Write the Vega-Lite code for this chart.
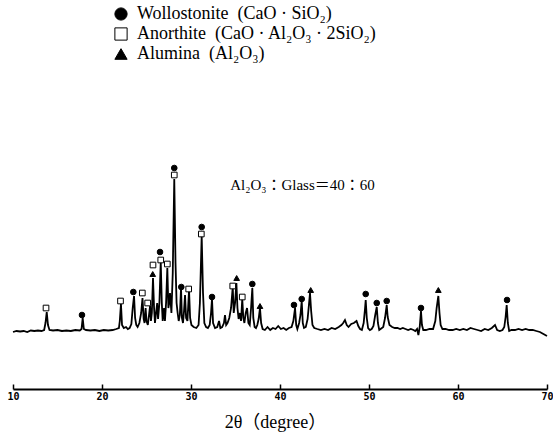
{
  "$schema": "https://vega.github.io/schema/vega-lite/v6.json",
  "width": 534,
  "height": 389,
  "autosize": {"type": "none"},
  "padding": {"left": 13, "top": 0, "right": 6, "bottom": 58},
  "background": "white",
  "config": {"view": {"stroke": null}, "font": "Liberation Serif"},
  "datasets": {
    "spectrum": [
      {"t":10.0,"I":1},{"t":10.4,"I":2},{"t":10.8,"I":1.5},{"t":11.2,"I":2},{"t":11.6,"I":1},{"t":12.0,"I":2.5},{"t":12.4,"I":2},{"t":12.8,"I":2.5},{"t":13.2,"I":2},{"t":13.5,"I":3},{"t":13.65,"I":10},{"t":13.79,"I":21},{"t":13.93,"I":8},{"t":14.1,"I":3},{"t":14.5,"I":2.5},{"t":15.0,"I":3},{"t":15.5,"I":2},{"t":16.0,"I":2.5},{"t":16.5,"I":2},{"t":17.0,"I":3},{"t":17.5,"I":2.5},{"t":17.7,"I":4},{"t":17.83,"I":15},{"t":17.96,"I":4},{"t":18.2,"I":3},{"t":18.7,"I":2.5},{"t":19.2,"I":3},{"t":19.7,"I":2},{"t":20.2,"I":3},{"t":20.7,"I":2.5},{"t":21.2,"I":3},{"t":21.6,"I":4},{"t":21.9,"I":5},{"t":22.0,"I":12},{"t":22.13,"I":29},{"t":22.25,"I":8},{"t":22.45,"I":5},{"t":22.7,"I":6},{"t":22.9,"I":4},{"t":23.1,"I":5},{"t":23.3,"I":9},{"t":23.45,"I":25},{"t":23.6,"I":37},{"t":23.72,"I":15},{"t":23.85,"I":8},{"t":24.0,"I":6},{"t":24.2,"I":10},{"t":24.4,"I":20},{"t":24.55,"I":35},{"t":24.68,"I":14},{"t":24.78,"I":10},{"t":24.9,"I":25},{"t":25.0,"I":12},{"t":25.15,"I":8},{"t":25.4,"I":27},{"t":25.5,"I":12},{"t":25.6,"I":20},{"t":25.73,"I":55},{"t":25.85,"I":25},{"t":25.95,"I":10},{"t":26.05,"I":18},{"t":26.2,"I":30},{"t":26.3,"I":14},{"t":26.45,"I":30},{"t":26.6,"I":71},{"t":26.72,"I":30},{"t":26.82,"I":12},{"t":26.97,"I":25},{"t":27.07,"I":12},{"t":27.2,"I":30},{"t":27.34,"I":65},{"t":27.46,"I":25},{"t":27.55,"I":30},{"t":27.64,"I":40},{"t":27.8,"I":20},{"t":27.95,"I":60},{"t":28.12,"I":154},{"t":28.26,"I":70},{"t":28.38,"I":30},{"t":28.5,"I":20},{"t":28.62,"I":12},{"t":28.75,"I":18},{"t":28.88,"I":45},{"t":28.98,"I":15},{"t":29.1,"I":10},{"t":29.2,"I":20},{"t":29.33,"I":38},{"t":29.45,"I":15},{"t":29.6,"I":12},{"t":29.78,"I":43},{"t":29.9,"I":15},{"t":30.05,"I":8},{"t":30.3,"I":6},{"t":30.6,"I":5},{"t":30.85,"I":8},{"t":31.0,"I":30},{"t":31.2,"I":97},{"t":31.35,"I":40},{"t":31.5,"I":10},{"t":31.7,"I":6},{"t":31.9,"I":5},{"t":32.1,"I":8},{"t":32.25,"I":20},{"t":32.36,"I":34},{"t":32.48,"I":10},{"t":32.7,"I":5},{"t":32.95,"I":6},{"t":33.15,"I":12},{"t":33.3,"I":5},{"t":33.5,"I":6},{"t":33.7,"I":10},{"t":33.82,"I":18},{"t":33.95,"I":8},{"t":34.1,"I":10},{"t":34.3,"I":15},{"t":34.5,"I":25},{"t":34.69,"I":46},{"t":34.8,"I":20},{"t":34.95,"I":30},{"t":35.1,"I":50},{"t":35.22,"I":25},{"t":35.35,"I":14},{"t":35.5,"I":20},{"t":35.62,"I":12},{"t":35.76,"I":34},{"t":35.88,"I":15},{"t":36.0,"I":10},{"t":36.15,"I":20},{"t":36.3,"I":25},{"t":36.45,"I":10},{"t":36.6,"I":8},{"t":36.75,"I":25},{"t":36.89,"I":45},{"t":37.0,"I":15},{"t":37.15,"I":6},{"t":37.3,"I":5},{"t":37.45,"I":8},{"t":37.6,"I":14},{"t":37.75,"I":25},{"t":37.88,"I":10},{"t":38.05,"I":4},{"t":38.3,"I":3},{"t":38.6,"I":6},{"t":38.9,"I":3},{"t":39.2,"I":5},{"t":39.5,"I":4},{"t":39.8,"I":7},{"t":40.1,"I":4},{"t":40.4,"I":5},{"t":40.7,"I":3},{"t":41.0,"I":5},{"t":41.3,"I":6},{"t":41.5,"I":12},{"t":41.69,"I":25},{"t":41.82,"I":8},{"t":41.95,"I":4},{"t":42.15,"I":10},{"t":42.3,"I":18},{"t":42.44,"I":32},{"t":42.56,"I":10},{"t":42.7,"I":5},{"t":42.9,"I":6},{"t":43.1,"I":14},{"t":43.25,"I":28},{"t":43.37,"I":40},{"t":43.5,"I":22},{"t":43.65,"I":8},{"t":43.85,"I":5},{"t":44.2,"I":4},{"t":44.6,"I":3},{"t":45.0,"I":4},{"t":45.4,"I":3},{"t":45.8,"I":5},{"t":46.2,"I":4},{"t":46.6,"I":6},{"t":46.9,"I":8},{"t":47.1,"I":10},{"t":47.3,"I":13},{"t":47.5,"I":8},{"t":47.7,"I":6},{"t":48.0,"I":9},{"t":48.3,"I":10},{"t":48.6,"I":12},{"t":48.8,"I":7},{"t":49.0,"I":4},{"t":49.2,"I":3},{"t":49.4,"I":10},{"t":49.55,"I":24},{"t":49.63,"I":33},{"t":49.75,"I":15},{"t":49.9,"I":5},{"t":50.1,"I":3},{"t":50.3,"I":4},{"t":50.5,"I":7},{"t":50.7,"I":18},{"t":50.87,"I":26},{"t":51.0,"I":10},{"t":51.15,"I":3},{"t":51.3,"I":4},{"t":51.6,"I":6},{"t":51.8,"I":15},{"t":51.99,"I":28},{"t":52.1,"I":16},{"t":52.3,"I":8},{"t":52.6,"I":6},{"t":52.9,"I":5},{"t":53.2,"I":5},{"t":53.5,"I":4},{"t":53.8,"I":5},{"t":54.1,"I":4},{"t":54.4,"I":3},{"t":54.7,"I":4},{"t":55.0,"I":3},{"t":55.2,"I":2},{"t":55.4,"I":4},{"t":55.55,"I":-2},{"t":55.7,"I":6},{"t":55.84,"I":22},{"t":55.95,"I":8},{"t":56.1,"I":3},{"t":56.4,"I":3},{"t":56.8,"I":4},{"t":57.2,"I":4},{"t":57.45,"I":12},{"t":57.6,"I":25},{"t":57.79,"I":37},{"t":57.92,"I":20},{"t":58.05,"I":8},{"t":58.25,"I":4},{"t":58.6,"I":4},{"t":59.0,"I":3},{"t":59.4,"I":3},{"t":59.8,"I":4},{"t":60.2,"I":3},{"t":60.6,"I":4},{"t":61.0,"I":3},{"t":61.4,"I":5},{"t":61.8,"I":4},{"t":62.2,"I":3},{"t":62.6,"I":2},{"t":63.0,"I":4},{"t":63.4,"I":3},{"t":63.8,"I":5},{"t":64.16,"I":8},{"t":64.4,"I":3},{"t":64.7,"I":2},{"t":65.0,"I":3},{"t":65.2,"I":6},{"t":65.35,"I":16},{"t":65.47,"I":28},{"t":65.6,"I":10},{"t":65.75,"I":2},{"t":66.0,"I":3},{"t":66.4,"I":3},{"t":66.8,"I":4},{"t":67.2,"I":3},{"t":67.6,"I":4},{"t":68.0,"I":3},{"t":68.4,"I":3},{"t":68.8,"I":2},{"t":69.2,"I":1},{"t":69.6,"I":-1},{"t":70.0,"I":-3}
    ],
    "markers": [
      {"t":13.71,"I":25,"phase":"Anorthite\u00a0\u00a0(CaO · Al₂O₃ · 2SiO₂)"},
      {"t":17.75,"I":18,"phase":"Wollostonite\u00a0\u00a0(CaO · SiO₂)"},
      {"t":22.08,"I":32,"phase":"Anorthite\u00a0\u00a0(CaO · Al₂O₃ · 2SiO₂)"},
      {"t":23.52,"I":41,"phase":"Wollostonite\u00a0\u00a0(CaO · SiO₂)"},
      {"t":24.53,"I":40,"phase":"Anorthite\u00a0\u00a0(CaO · Al₂O₃ · 2SiO₂)"},
      {"t":25.13,"I":30,"phase":"Anorthite\u00a0\u00a0(CaO · Al₂O₃ · 2SiO₂)"},
      {"t":25.7,"I":59,"phase":"Alumina\u00a0\u00a0(Al₂O₃)"},
      {"t":25.73,"I":68,"phase":"Anorthite\u00a0\u00a0(CaO · Al₂O₃ · 2SiO₂)"},
      {"t":26.52,"I":81,"phase":"Wollostonite\u00a0\u00a0(CaO · SiO₂)"},
      {"t":26.6,"I":73,"phase":"Anorthite\u00a0\u00a0(CaO · Al₂O₃ · 2SiO₂)"},
      {"t":27.34,"I":69,"phase":"Anorthite\u00a0\u00a0(CaO · Al₂O₃ · 2SiO₂)"},
      {"t":28.12,"I":158,"phase":"Anorthite\u00a0\u00a0(CaO · Al₂O₃ · 2SiO₂)"},
      {"t":28.12,"I":165,"phase":"Wollostonite\u00a0\u00a0(CaO · SiO₂)"},
      {"t":28.91,"I":46,"phase":"Wollostonite\u00a0\u00a0(CaO · SiO₂)"},
      {"t":29.74,"I":44,"phase":"Anorthite\u00a0\u00a0(CaO · Al₂O₃ · 2SiO₂)"},
      {"t":31.16,"I":99,"phase":"Anorthite\u00a0\u00a0(CaO · Al₂O₃ · 2SiO₂)"},
      {"t":31.2,"I":106,"phase":"Wollostonite\u00a0\u00a0(CaO · SiO₂)"},
      {"t":32.36,"I":36,"phase":"Wollostonite\u00a0\u00a0(CaO · SiO₂)"},
      {"t":34.69,"I":47,"phase":"Anorthite\u00a0\u00a0(CaO · Al₂O₃ · 2SiO₂)"},
      {"t":35.13,"I":55,"phase":"Alumina\u00a0\u00a0(Al₂O₃)"},
      {"t":35.76,"I":36,"phase":"Anorthite\u00a0\u00a0(CaO · Al₂O₃ · 2SiO₂)"},
      {"t":36.89,"I":49,"phase":"Wollostonite\u00a0\u00a0(CaO · SiO₂)"},
      {"t":37.75,"I":27,"phase":"Alumina\u00a0\u00a0(Al₂O₃)"},
      {"t":41.57,"I":28,"phase":"Wollostonite\u00a0\u00a0(CaO · SiO₂)"},
      {"t":42.44,"I":34,"phase":"Wollostonite\u00a0\u00a0(CaO · SiO₂)"},
      {"t":43.45,"I":43,"phase":"Alumina\u00a0\u00a0(Al₂O₃)"},
      {"t":49.63,"I":39,"phase":"Wollostonite\u00a0\u00a0(CaO · SiO₂)"},
      {"t":50.87,"I":30,"phase":"Wollostonite\u00a0\u00a0(CaO · SiO₂)"},
      {"t":51.99,"I":32,"phase":"Wollostonite\u00a0\u00a0(CaO · SiO₂)"},
      {"t":55.84,"I":25,"phase":"Wollostonite\u00a0\u00a0(CaO · SiO₂)"},
      {"t":57.79,"I":43,"phase":"Alumina\u00a0\u00a0(Al₂O₃)"},
      {"t":65.51,"I":33,"phase":"Wollostonite\u00a0\u00a0(CaO · SiO₂)"}
    ],
    "notes": [
      {"t":34.4,"I":148,"label":"Al₂O₃：Glass＝40：60"}
    ]
  },
  "layer": [
    {
      "data": {"name": "spectrum"},
      "mark": {"type": "line", "color": "black", "strokeWidth": 1.8, "strokeJoin": "miter"},
      "encoding": {
        "x": {
          "field": "t", "type": "quantitative",
          "scale": {"domain": [10, 70], "nice": false, "zero": false},
          "axis": {
            "title": "2θ（degree）",
            "titleFont": "Liberation Serif, Noto Sans CJK JP", "titleFontSize": 18, "titleFontWeight": "normal", "titleColor": "black", "titlePadding": 12, "titleX": 262,
            "values": [10, 20, 30, 40, 50, 60, 70],
            "grid": false,
            "domainColor": "black", "domainWidth": 2,
            "tickColor": "black", "tickWidth": 1.5, "tickSize": -5,
            "labelFont": "DejaVu Sans Mono", "labelFontSize": 10, "labelFontWeight": "bold", "labelColor": "black",
            "labelPadding": 7, "labelFlush": false, "labelOverlap": false
          }
        },
        "y": {
          "field": "I", "type": "quantitative",
          "scale": {"domain": [-56, 333], "nice": false, "zero": false},
          "axis": null
        },
        "order": {"field": "t"}
      }
    },
    {
      "data": {"name": "markers"},
      "mark": {"type": "point", "filled": true, "size": 32, "strokeWidth": 1, "opacity": 1},
      "encoding": {
        "x": {"field": "t", "type": "quantitative"},
        "y": {"field": "I", "type": "quantitative"},
        "shape": {
          "field": "phase", "type": "nominal",
          "scale": {"domain": ["Wollostonite\u00a0\u00a0(CaO · SiO₂)", "Anorthite\u00a0\u00a0(CaO · Al₂O₃ · 2SiO₂)", "Alumina\u00a0\u00a0(Al₂O₃)"], "range": ["circle", "square", "triangle-up"]},
          "legend": {
            "title": null, "orient": "none", "legendX": 99, "legendY": 5, "padding": 0,
            "symbolSize": 150, "symbolStrokeWidth": 1,
            "labelFont": "Liberation Serif", "labelFontSize": 18, "labelColor": "black", "labelOffset": 7, "labelLimit": 400,
            "rowPadding": 2
          }
        },
        "fill": {
          "field": "phase", "type": "nominal",
          "scale": {"domain": ["Wollostonite\u00a0\u00a0(CaO · SiO₂)", "Anorthite\u00a0\u00a0(CaO · Al₂O₃ · 2SiO₂)", "Alumina\u00a0\u00a0(Al₂O₃)"], "range": ["black", "white", "black"]},
          "legend": {
            "title": null, "orient": "none", "legendX": 99, "legendY": 5, "padding": 0,
            "symbolSize": 150, "symbolStrokeWidth": 1,
            "labelFont": "Liberation Serif", "labelFontSize": 18, "labelColor": "black", "labelOffset": 7, "labelLimit": 400,
            "rowPadding": 2
          }
        },
        "stroke": {
          "field": "phase", "type": "nominal",
          "scale": {"domain": ["Wollostonite\u00a0\u00a0(CaO · SiO₂)", "Anorthite\u00a0\u00a0(CaO · Al₂O₃ · 2SiO₂)", "Alumina\u00a0\u00a0(Al₂O₃)"], "range": ["black", "black", "black"]},
          "legend": {
            "title": null, "orient": "none", "legendX": 99, "legendY": 5, "padding": 0,
            "symbolSize": 150, "symbolStrokeWidth": 1,
            "labelFont": "Liberation Serif", "labelFontSize": 18, "labelColor": "black", "labelOffset": 7, "labelLimit": 400,
            "rowPadding": 2
          }
        }
      }
    },
    {
      "data": {"name": "notes"},
      "mark": {"type": "text", "align": "left", "baseline": "middle", "font": "Liberation Serif, Noto Sans CJK JP", "fontSize": 15, "color": "black"},
      "encoding": {
        "x": {"field": "t", "type": "quantitative"},
        "y": {"field": "I", "type": "quantitative"},
        "text": {"field": "label"}
      }
    }
  ]
}
